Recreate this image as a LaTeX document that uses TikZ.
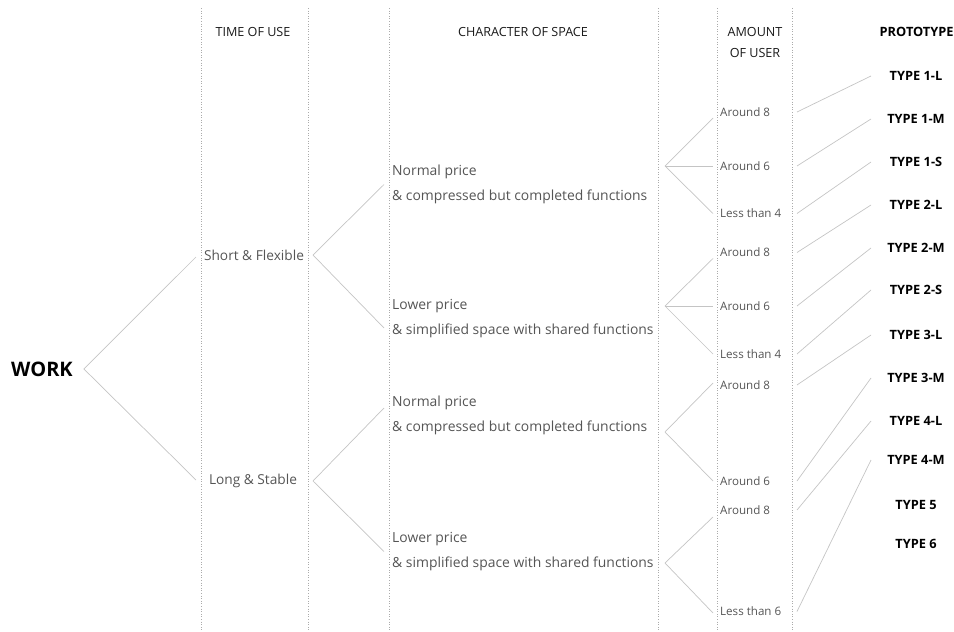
\documentclass[tikz,border=0pt]{standalone}
\usepackage{fontspec}
\setmainfont{Open Sans}
\definecolor{lbl}{HTML}{555555}
\definecolor{hdr}{HTML}{1A1A1A}
\definecolor{conn}{HTML}{C4C4C4}
\definecolor{sep}{HTML}{ABABAB}
\begin{document}
\begin{tikzpicture}[x=1pt,y=-1pt,
  header/.style={text=hdr, font=\fontsize{12.6}{21}\selectfont, inner sep=0pt, align=center},
  timelbl/.style={text=lbl, font=\fontsize{13.7}{16}\selectfont, inner sep=0pt},
  charlbl/.style={text=lbl, font=\fontsize{13.9}{25}\selectfont, inner sep=0pt, anchor=west, align=left},
  amtlbl/.style={text=lbl, font=\fontsize{11.6}{14}\selectfont, inner sep=0pt, anchor=west},
  typelbl/.style={text=black, font=\bfseries\fontsize{12.8}{14}\selectfont, inner sep=0pt},
  rootlbl/.style={text=black, font=\bfseries\fontsize{20}{22}\selectfont, inner sep=0pt, anchor=west},
  conn/.style={draw=conn, line width=0.7pt},
  sepline/.style={draw=sep, dotted, line width=0.6pt}]
\useasboundingbox (0,0) rectangle (954,632);
\clip (0,0) rectangle (954,632);

% column separators
\foreach \xx in {201,308,389,658,717,792} \draw[sepline] (\xx,8) -- (\xx,632);

% x positions of connector ends
\coordinate (xt1) at (196,0);
\coordinate (xt2) at (313,0);
\coordinate (xc1) at (384,0);
\coordinate (xa1) at (713,0);
\coordinate (xa2) at (797,0);
\coordinate (xp) at (871,0);

% headers
\node[header] (h1) at (253,32) {TIME OF USE};
\node[header] (h2) at (523,32) {CHARACTER OF SPACE};
\node[header] (h3) at (755,42.5) {AMOUNT\\OF USER};
\node[typelbl, anchor=west] (h4) at (879.5,32) {PROTOTYPE};

% root
\node[rootlbl] (work) at (11,369) {WORK};

% time of use
\node[timelbl] (short) at (254,255) {Short \& Flexible};
\node[timelbl] (long) at (253,481) {Long \& Stable};

% character of space
\node[charlbl] (c1) at (392,184.5) {Normal price\\\& compressed but completed functions};
\node[charlbl] (c2) at (392,318.5) {Lower price\\\& simplified space with shared functions};
\node[charlbl] (c3) at (392,415.5) {Normal price\\\& compressed but completed functions};
\node[charlbl] (c4) at (392,551.5) {Lower price\\\& simplified space with shared functions};

% amount of user
\node[amtlbl] (a1) at (720,112) {Around 8};
\node[amtlbl] (a2) at (720,166) {Around 6};
\node[amtlbl] (a3) at (720,213.5) {Less than 4};
\node[amtlbl] (a4) at (720,252.5) {Around 8};
\node[amtlbl] (a5) at (720,306) {Around 6};
\node[amtlbl] (a6) at (720,354) {Less than 4};
\node[amtlbl] (a7) at (720,385) {Around 8};
\node[amtlbl] (a8) at (720,481) {Around 6};
\node[amtlbl] (a9) at (720,510) {Around 8};
\node[amtlbl] (a10) at (720,611.5) {Less than 6};

% prototypes
\node[typelbl] (t1) at (916,76) {TYPE 1-L};
\node[typelbl] (t2) at (916,119) {TYPE 1-M};
\node[typelbl] (t3) at (916,162) {TYPE 1-S};
\node[typelbl] (t4) at (916,205) {TYPE 2-L};
\node[typelbl] (t5) at (916,248) {TYPE 2-M};
\node[typelbl] (t6) at (916,290) {TYPE 2-S};
\node[typelbl] (t7) at (916,335) {TYPE 3-L};
\node[typelbl] (t8) at (916,378) {TYPE 3-M};
\node[typelbl] (t9) at (916,421) {TYPE 4-L};
\node[typelbl] (t10) at (916,460) {TYPE 4-M};
\node[typelbl] (t11) at (916,505) {TYPE 5};
\node[typelbl] (t12) at (916,544) {TYPE 6};

% branch apexes
\coordinate (g1) at (665,166);
\coordinate (g2) at (665,306);
\coordinate (g3) at (665,432);
\coordinate (g4) at (665,563);

% connectors: root -> time
\draw[conn] ([yshift=-2pt]short -| xt1) -- ([xshift=11pt]work.east) -- ([yshift=1pt]long -| xt1);
% time -> character
\draw[conn] (c1 -| xc1) -- (short -| xt2) -- ([yshift=-9.5pt]c2 -| xc1);
\draw[conn] ([yshift=7.5pt]c3 -| xc1) -- (long -| xt2) -- (c4 -| xc1);
% character -> amount
\draw[conn] ([yshift=-6pt]a1 -| xa1) -- (g1) -- (a3 -| xa1);
\draw[conn] (g1) -- (a2 -| xa1);
\draw[conn] ([yshift=-6pt]a4 -| xa1) -- (g2) -- (a6 -| xa1);
\draw[conn] (g2) -- (a5 -| xa1);
\draw[conn] ([yshift=2pt]a7 -| xa1) -- (g3) -- (a8 -| xa1);
\draw[conn] ([yshift=-7pt]a9 -| xa1) -- (g4) -- ([yshift=-1.5pt]a10 -| xa1);
% amount -> prototype
\foreach \i in {1,...,10} \draw[conn] (a\i -| xa2) -- (t\i -| xp);
\end{tikzpicture}
\end{document}
